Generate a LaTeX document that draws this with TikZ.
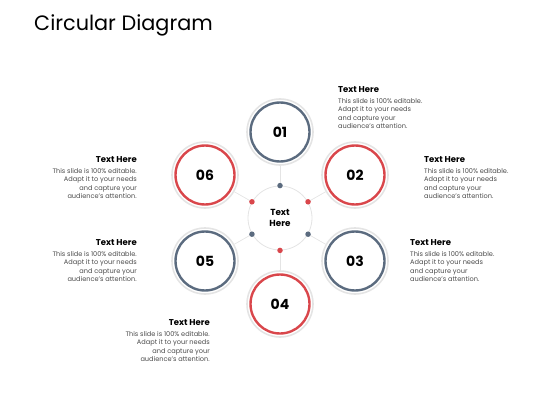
\documentclass[tikz,border=0pt]{standalone}
\usepackage{fontspec}
\setmainfont{Poppins}
\usetikzlibrary{positioning}
\definecolor{slate}{HTML}{5B6B7F}
\definecolor{brick}{HTML}{D9464B}
\definecolor{ring}{HTML}{E4E4E4}
\newcommand{\bodytext}{This slide is 100\% editable.\\Adapt it to your needs\\and capture your\\audience's attention.}
\begin{document}
\begin{tikzpicture}[x=1pt,y=-1pt]
\tikzstyle{hub}=[circle,draw=ring,fill=white,line width=0.8pt,minimum size=64pt,inner sep=0pt,align=center,font=\fontsize{8.8}{11}\selectfont\bfseries]
\tikzstyle{step_slate}=[circle,draw=slate,fill=white,line width=2.4pt,minimum size=59pt,inner sep=0pt,font=\fontsize{14}{14}\selectfont\bfseries]
\tikzstyle{step_brick}=[step_slate,draw=brick]
\tikzstyle{halo}=[circle,draw=ring,line width=1.6pt,minimum size=66pt,inner sep=0pt]
\tikzstyle{dot_slate}=[circle,fill=slate,minimum size=5.5pt,inner sep=0pt]
\tikzstyle{dot_brick}=[dot_slate,fill=brick]
\tikzstyle{spoke}=[draw=ring,line width=0.7pt]
\tikzstyle{headl}=[anchor=west,inner sep=0pt,font=\fontsize{8.5}{9}\selectfont\bfseries]
\tikzstyle{headr}=[headl,anchor=east]
\tikzstyle{bodyl}=[anchor=north west,inner sep=0pt,align=left,text=black!70,font=\fontsize{6.6}{8.5}\selectfont]
\tikzstyle{bodyr}=[bodyl,anchor=north east,align=right]
\useasboundingbox (0,0) rectangle (560,420);
\node[anchor=west,inner sep=0pt,font=\fontsize{20.8}{21}\selectfont] (title) at (34,25) {Circular Diagram};

% centre
\node[hub] (hub) at (280,218) {Text\\Here};

% outer steps
\node[halo] (h1) at (280,132) {};
\node[halo] (h2) at (355,175) {};
\node[halo] (h3) at (355,261) {};
\node[halo] (h4) at (280,304) {};
\node[halo] (h5) at (205,261) {};
\node[halo] (h6) at (205,175) {};
\node[step_slate] (s1) at (280,132) {01};
\node[step_brick] (s2) at (355,175) {02};
\node[step_slate] (s3) at (355,261) {03};
\node[step_brick] (s4) at (280,304) {04};
\node[step_slate] (s5) at (205,261) {05};
\node[step_brick] (s6) at (205,175) {06};

\draw[spoke] (hub.90)--(h1);
\draw[spoke] (hub.30)--(h2);
\draw[spoke] (hub.-30)--(h3);
\draw[spoke] (hub.-90)--(h4);
\draw[spoke] (hub.210)--(h5);
\draw[spoke] (hub.150)--(h6);

\node[dot_slate] (d1) at (hub.90) {};
\node[dot_brick] (d2) at (hub.30) {};
\node[dot_slate] (d3) at (hub.-30) {};
\node[dot_brick] (d4) at (hub.-90) {};
\node[dot_slate] (d5) at (hub.210) {};
\node[dot_brick] (d6) at (hub.150) {};

% texts
\node[headl] (head1) at (338,90) {Text Here};
\node[bodyl] (body1) at (338,98) {\bodytext};
\node[headl] (head2) at (424,160) {Text Here};
\node[bodyl] (body2) at (424,168) {\bodytext};
\node[headl] (head3) at (410,243) {Text Here};
\node[bodyl] (body3) at (410,251) {\bodytext};
\node[headr] (head4) at (210,323) {Text Here};
\node[bodyr] (body4) at (210,331) {\bodytext};
\node[headr] (head5) at (137,243) {Text Here};
\node[bodyr] (body5) at (137,251) {\bodytext};
\node[headr] (head6) at (137,160) {Text Here};
\node[bodyr] (body6) at (137,168) {\bodytext};
\end{tikzpicture}
\end{document}
